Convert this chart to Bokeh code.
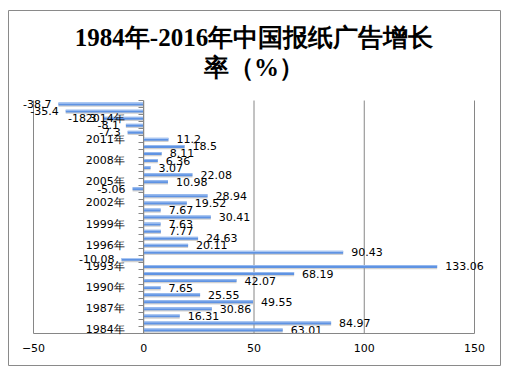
from bokeh.plotting import figure
from bokeh.models import ColumnDataSource, Range1d, FixedTicker, LinearAxis, Label, CDSView, BooleanFilter
from bokeh.transform import dodge
from bokeh.core.properties import value
from bokeh.embed import file_html
from bokeh.resources import INLINE

years = list(range(1984, 2017))
growth = [63.01, 84.97, 16.31, 30.86, 49.55, 25.55, 7.65, 42.07, 68.19, 133.06,
          -10.08, 90.43, 20.11, 24.63, 7.77, 7.63, 30.41, 7.67, 19.52, 28.94,
          -5.06, 10.98, 22.08, 3.07, 6.36, 8.11, 18.5, 11.2, -7.3, -8.1,
          -18.3, -35.4, -38.7]
tick_years = [1984, 1987, 1990, 1993, 1996, 1999, 2002, 2005, 2008, 2011, 2014]
x_ticks = [-50, 0, 50, 100, 150]
title_line1 = "1984年-2016年中国报纸广告增长"
title_line2 = "率（%）"

y_lo, y_hi = years[0] - 0.5, years[-1] + 0.5
src = ColumnDataSource(dict(year=years, g=growth, lbl=[str(v) for v in growth]))
pos_view = CDSView(filter=BooleanFilter([v >= 0 for v in growth]))
neg_view = CDSView(filter=BooleanFilter([v < 0 for v in growth]))

# frame covers the whole canvas; ranges padded so the plot area sits inside
p = figure(width=493, height=356, output_backend="svg", toolbar_location=None,
           x_range=Range1d(-61.34, 162.24), y_range=Range1d(1978.83, 2029.25),
           x_axis_location=None, y_axis_location=None,
           min_border=0)
p.styles = {"margin-left": "8px", "margin-top": "10px"}
p.outline_line_color = "#8a8a8a"
p.outline_line_width = 1
p.background_fill_color = "white"
p.border_fill_color = "white"
p.grid.visible = False

# vertical gridlines over the plot area only
p.segment(x0=x_ticks, x1=x_ticks, y0=[y_lo] * len(x_ticks), y1=[y_hi] * len(x_ticks),
          line_color="#868686", line_width=1)

# value axis along the bottom of the plot area
xax = LinearAxis(fixed_location=y_lo, bounds=(x_ticks[0], x_ticks[-1]),
                 ticker=FixedTicker(ticks=x_ticks))
xax.axis_line_color = "#868686"
xax.major_tick_out = 0
xax.major_tick_in = 0
xax.minor_tick_line_color = None
xax.major_label_text_font = "DejaVu Sans"
xax.major_label_text_font_size = "11px"
xax.major_label_text_color = "black"
xax.major_label_standoff = 10
p.add_layout(xax, "below")

# category axis at x = 0
yax = LinearAxis(fixed_location=0, bounds=(y_lo, y_hi),
                 ticker=FixedTicker(ticks=tick_years,
                                    minor_ticks=[y - 0.5 for y in years] + [y_hi]))
yax.major_label_overrides = {y: f"{y}年" for y in tick_years}
yax.axis_line_color = "#868686"
yax.major_tick_out = 0
yax.major_tick_in = 0
yax.minor_tick_out = 5
yax.minor_tick_in = 0
yax.minor_tick_line_color = "#868686"
yax.major_label_text_font = "DejaVu Sans"
yax.major_label_text_font_size = "11px"
yax.major_label_text_color = "black"
yax.major_label_standoff = 14
p.add_layout(yax, "left")

# bars with soft shadow
p.hbar(y=dodge("year", -0.18, range=p.y_range), right="g", left=0, height=0.42,
       source=src, fill_color="#9a9a9a", fill_alpha=0.45, line_color=None)
p.hbar(y="year", right="g", left=0, height=0.42, source=src,
       fill_color="#5f93e3", line_color=None)
p.hbar(y=dodge("year", 0.12, range=p.y_range), right="g", left=0, height=0.12,
       source=src, fill_color="#a9c6f2", line_color=None)

# value labels
common = dict(text="lbl", text_font=value("DejaVu Sans"), text_font_size="11px",
              text_color="black", text_baseline="middle", source=src)
p.text(x="g", y="year", x_offset=8, text_align="left", view=pos_view, **common)
p.text(x="g", y="year", x_offset=-7, text_align="right", view=neg_view, **common)

# title (two lines, centred over the chart)
for txt, yy in ((title_line1, 2025.4), (title_line2, 2021.2)):
    p.add_layout(Label(x=50, y=yy, text=txt,
                       text_align="center", text_baseline="middle",
                       text_font="Liberation Serif", text_font_style="bold",
                       text_font_size="25px", text_color="black"))

open("out.html", "w").write(file_html(p, INLINE))
